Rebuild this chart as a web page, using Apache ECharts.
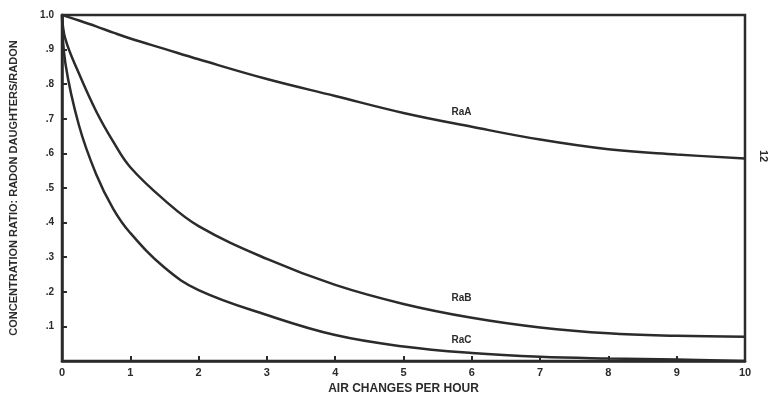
<!DOCTYPE html>
<html>
<head>
<meta charset="utf-8">
<script src="https://cdn.jsdelivr.net/npm/echarts@6/dist/echarts.min.js"></script>
<style>
  html, body { margin: 0; padding: 0; background: #fff; }
  #chart { width: 773px; height: 394px; }
</style>
</head>
<body>
<div id="chart"></div>
<script>
// air changes per hour
const airChanges = [0, 0.05, 0.25, 0.5, 0.75, 1, 1.5, 2, 3, 4, 5, 6, 7, 8, 9, 10]

// concentration ratios
const raA = [1.0, 0.997, 0.984, 0.967, 0.949, 0.932, 0.902, 0.872, 0.815, 0.766, 0.717, 0.677, 0.640, 0.612, 0.597, 0.585]
const raB = [1.0, 0.93, 0.83, 0.722, 0.634, 0.56, 0.465, 0.39, 0.295, 0.22, 0.165, 0.125, 0.097, 0.08, 0.073, 0.07]
const raC = [1.0, 0.86, 0.68, 0.54, 0.44, 0.37, 0.27, 0.205, 0.133, 0.075, 0.042, 0.023, 0.012, 0.007, 0.004, 0.0]

const seriesNames = ['RaA', 'RaB', 'RaC']
const labelAt = [[5.85, 0.72], [5.85, 0.182], [5.85, 0.061]]

const ink = '#2b2b2b'
const font = '"Liberation Sans", Arial, sans-serif'

const chart = echarts.init(document.getElementById('chart'))

const toPairs = vals => airChanges.map((x, i) => [x, vals[i]])

const series = [raA, raB, raC].map((vals, i) => ({
  name: seriesNames[i],
  type: 'line',
  data: toPairs(vals),
  smooth: 0.4,
  symbol: 'none',
  lineStyle: { color: ink, width: 2.5 },
  markPoint: {
    symbol: 'circle',
    symbolSize: 0,
    data: [{ coord: labelAt[i] }],
    label: {
      show: true,
      formatter: seriesNames[i],
      color: ink,
      fontFamily: font,
      fontWeight: 'bold',
      fontSize: 10
    }
  }
}))

const option = {
  animation: false,
  grid: {
    left: 62,
    right: 28,
    top: 15,
    bottom: 33,
    outerBoundsMode: 'none',
    show: true,
    borderColor: ink,
    borderWidth: 2.5,
    backgroundColor: 'transparent'
  },
  xAxis: {
    type: 'value',
    min: 0,
    max: 10,
    interval: 1,
    name: 'AIR CHANGES PER HOUR',
    nameLocation: 'middle',
    nameGap: 21,
    nameTextStyle: { color: ink, fontFamily: font, fontWeight: 'bold', fontSize: 12 },
    axisLine: { lineStyle: { color: ink, width: 2.5 } },
    axisTick: { inside: true, length: 5, lineStyle: { color: ink, width: 2 } },
    axisLabel: { color: ink, fontFamily: font, fontWeight: 'bold', fontSize: 11, margin: 6 },
    splitLine: { show: false }
  },
  yAxis: {
    type: 'value',
    min: 0,
    max: 1,
    interval: 0.1,
    name: 'CONCENTRATION RATIO: RADON DAUGHTERS/RADON',
    nameLocation: 'middle',
    nameGap: 43,
    nameTextStyle: { color: ink, fontFamily: font, fontWeight: 'bold', fontSize: 11 },
    axisLine: { lineStyle: { color: ink, width: 2.5 } },
    axisTick: { inside: true, length: 5, lineStyle: { color: ink, width: 2 } },
    axisLabel: {
      color: ink,
      fontFamily: font,
      fontWeight: 'bold',
      fontSize: 10,
      margin: 8,
      formatter: v => {
        if (v === 0) return ''
        if (v === 1) return '1.0'
        return v.toFixed(1).replace(/^0/, '')
      }
    },
    splitLine: { show: false }
  },
  graphic: [
    {
      type: 'text',
      left: 758,
      top: 150,
      rotation: -Math.PI / 2,
      style: { text: '12', fill: ink, font: 'bold 11px ' + font }
    }
  ],
  series
}

chart.setOption(option)
</script>
</body>
</html>
